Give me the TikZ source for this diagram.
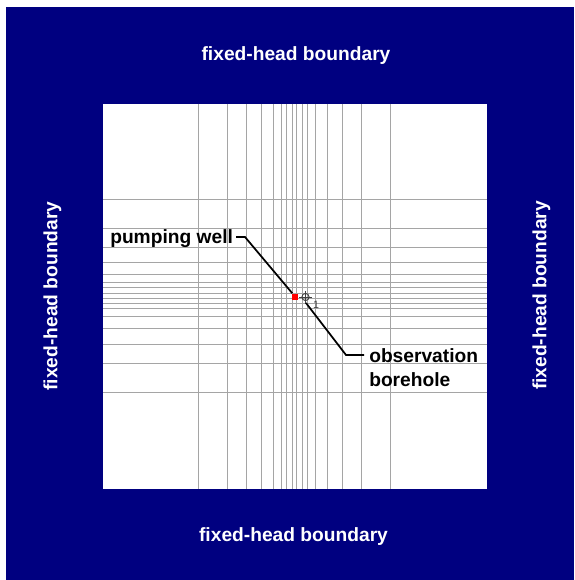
\documentclass[tikz,border=0pt]{standalone}
\usepackage{fontspec}
\setmainfont{Liberation Sans}
\definecolor{navyb}{RGB}{0,0,128}
\definecolor{gridg}{RGB}{165,165,165}
\tikzset{
  x=0.75pt,y=-0.75pt,
  gridline/.style={draw=gridg,line width=0.8pt},
  bound/.style={text=white,font=\bfseries\fontsize{14.4pt}{18pt}\selectfont,inner sep=0pt},
  lab/.style={text=black,font=\bfseries\fontsize{14.4pt}{18pt}\selectfont,inner sep=0pt},
  leader/.style={draw=black,line width=1.3pt}
}
\begin{document}
\begin{tikzpicture}
\useasboundingbox (0,0) rectangle (574,580);
\fill[white] (0,0) rectangle (574,580);
\fill[navyb] (6,7) rectangle (574,580);
\fill[white] (103,104) rectangle (487,489);
\foreach \x in {199,228,247,262,274,282,287,293,297,303,308,316,328,343,362,391}
  \draw[gridline] (\x-0.4,104) -- (\x-0.4,489);
\foreach \y in {200,229,248,263,275,283,288,294,299,304,309,317,329,345,364,393}
  \draw[gridline] (103,\y-0.4) -- (487,\y-0.4);
\node[bound] (top) at (296,55.5) {fixed-head boundary};
\node[bound] (bottom) at (293.5,536.5) {fixed-head boundary};
\node[bound,rotate=90] (left) at (52.5,296) {fixed-head boundary};
\node[bound,rotate=90] (right) at (541.5,295.5) {fixed-head boundary};
\node[lab,anchor=west] (pw) at (110,239) {pumping well};
\node[lab,anchor=west,align=left] (ob) at (369,368) {observation\\borehole};
\node[fill=red,inner sep=0pt,minimum size=4.5pt] (wellc) at (295,296.5) {};
\coordinate (bh) at (305.5,297);
\draw[black!75,line width=0.7pt] (bh) circle (3.6);
\draw[black!75,line width=0.7pt] (299,297) -- (312,297) (305.5,290.5) -- (305.5,303.5);
\node[text=black!75,font=\fontsize{8pt}{9pt}\selectfont,inner sep=0pt] (one) at (316,305) {1};
\coordinate (a1) at (236,237);
\coordinate (a2) at (245,237);
\coordinate (b1) at (306,303);
\coordinate (b2) at (346,355);
\coordinate (b3) at (364,355);
\draw[leader] (a1) -- (a2) -- (wellc);
\draw[leader] (b1) -- (b2) -- (b3);
\end{tikzpicture}
\end{document}
